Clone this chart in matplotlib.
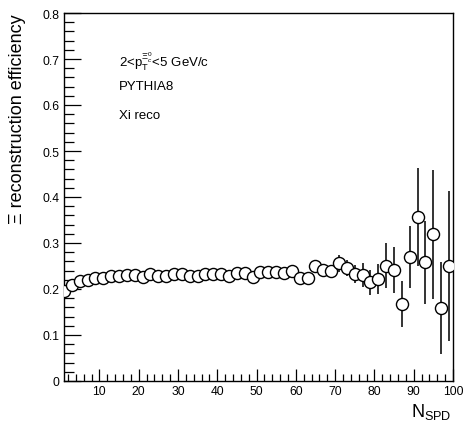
import numpy as np
import matplotlib.pyplot as plt
from matplotlib.ticker import MultipleLocator

plt.rcParams['font.family'] = ['Liberation Sans', 'DejaVu Sans']
plt.rcParams['mathtext.fontset'] = 'custom'
plt.rcParams['mathtext.rm'] = 'Liberation Sans'
plt.rcParams['mathtext.it'] = 'Liberation Sans:italic'

# N_SPD bin centres
n_spd = np.arange(1, 100, 2)

eff = [0.196, 0.209, 0.217, 0.220, 0.225, 0.225, 0.228, 0.228, 0.230, 0.230,
       0.227, 0.233, 0.229, 0.229, 0.232, 0.232, 0.229, 0.229, 0.232, 0.232,
       0.232, 0.229, 0.235, 0.235, 0.226, 0.238, 0.238, 0.236, 0.235, 0.240,
       0.225, 0.225, 0.251, 0.242, 0.240, 0.256, 0.246, 0.233, 0.230, 0.215,
       0.222, 0.251, 0.242, 0.167, 0.270, 0.357, 0.258, 0.319, 0.158, 0.251]

eff_err = [0.003, 0.003, 0.003, 0.003, 0.003, 0.003, 0.003, 0.003, 0.003, 0.003,
           0.003, 0.003, 0.003, 0.003, 0.003, 0.003, 0.003, 0.004, 0.004, 0.004,
           0.004, 0.004, 0.004, 0.004, 0.005, 0.005, 0.005, 0.005, 0.006, 0.006,
           0.006, 0.007, 0.008, 0.010, 0.012, 0.018, 0.018, 0.020, 0.026, 0.027,
           0.032, 0.048, 0.050, 0.050, 0.067, 0.106, 0.090, 0.140, 0.100, 0.163]

fig = plt.figure(figsize=(4.64, 4.31), dpi=100)
ax = fig.add_axes([64 / 464, 1 - 382 / 431, (453 - 64) / 464, (382 - 14) / 431])

ax.errorbar(n_spd, eff, yerr=eff_err, fmt='o', ms=8.7, mfc='white', mec='black',
            mew=1.0, ecolor='#333333', elinewidth=1.4, capsize=0, zorder=3)

ax.set_xlim(1, 100)
ax.set_ylim(0, 0.8)
ax.xaxis.set_major_locator(MultipleLocator(10))
ax.xaxis.set_minor_locator(MultipleLocator(2))
ax.yaxis.set_major_locator(MultipleLocator(0.1))
ax.yaxis.set_minor_locator(MultipleLocator(0.02))
ax.set_xticks(np.arange(10, 101, 10))
ax.set_xticklabels([str(v) for v in range(10, 101, 10)])
ax.set_yticks(np.arange(0, 0.81, 0.1))
ax.set_yticklabels(['0'] + ['%.1f' % v for v in np.arange(0.1, 0.81, 0.1)])

ax.tick_params(which='both', direction='in', top=False, right=False,
               labelsize=8.7, width=0.9, colors='black')
ax.tick_params(axis='x', which='major', length=9, pad=3)
ax.tick_params(axis='x', which='minor', length=5)
ax.tick_params(axis='y', which='major', length=12, pad=3)
ax.tick_params(axis='y', which='minor', length=7)
for spine in ax.spines.values():
    spine.set_linewidth(1.0)

ax.set_xlabel(r'N$_{\mathrm{SPD}}$', fontsize=13, ha='right', x=1.0)
ax.xaxis.set_label_coords(0.995, -0.055)
ax.set_ylabel('Ξ reconstruction efficiency', fontsize=13, ha='right', y=1.0)
ax.yaxis.set_label_coords(-0.098, 1.0)

ax.text(0.142, 0.869, r'2<p$_{\mathrm{T}}^{\Xi_c^0}$<5 GeV/c', transform=ax.transAxes,
        fontsize=9.5, va='center')
ax.text(0.142, 0.802, 'PYTHIA8', transform=ax.transAxes, fontsize=9.5, va='center')
ax.text(0.142, 0.723, 'Xi reco', transform=ax.transAxes, fontsize=9.5, va='center')

fig.savefig('out.png', dpi=100)
